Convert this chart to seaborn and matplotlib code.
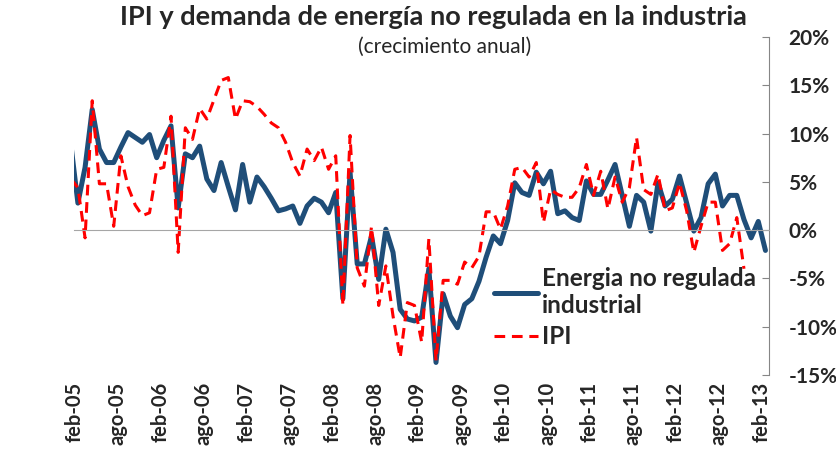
import numpy as np
import pandas as pd
import matplotlib
matplotlib.use("Agg")
import matplotlib.pyplot as plt
import seaborn as sns

# monthly annual growth (%), jan-05 .. feb-13 (jan-05 falls just outside the axis)
energia = [
    9.0,
    2.8, 6.5, 12.5, 8.4, 7.0, 7.0, 8.6, 10.1, 9.6, 9.1,
    9.9, 7.5, 9.3, 10.8, 2.3, 7.9, 7.5, 8.7, 5.3, 4.1,
    7.0, 4.5, 2.1, 6.8, 2.9, 5.5, 4.5, 3.3, 2.0, 2.2,
    2.5, 0.7, 2.5, 3.3, 2.9, 1.8, 3.9, -7.1, 6.0, -3.5,
    -3.5, -0.6, -5.1, 0.1, -2.3, -8.2, -9.2, -9.4, -9.0, -4.0,
    -13.7, -6.6, -8.9, -10.1, -7.7, -7.1, -5.3, -2.8, -0.6, -1.4,
    1.0, 4.9, 3.9, 3.6, 6.0, 4.8, 6.1, 1.7, 2.0, 1.3,
    1.0, 5.1, 3.7, 3.7, 5.2, 6.8, 3.6, 0.4, 3.6, 2.9,
    -0.1, 4.9, 2.5, 3.2, 5.6, 2.8, -0.1, 1.3, 4.8, 5.8,
    2.5, 3.6, 3.6, 1.1, -0.8, 0.9, -2.1,
]
ipi = [
    5.3,
    4.4, -0.8, 13.4, 4.8, 4.8, 0.4, 7.7, 4.5, 2.6, 1.5,
    1.8, 6.3, 6.5, 11.8, -2.3, 10.6, 9.4, 12.6, 11.5, 13.5,
    15.5, 15.8, 11.5, 13.4, 13.3, 12.8, 12.0, 11.1, 10.6, 9.1,
    7.0, 5.6, 8.4, 7.2, 8.6, 6.3, 7.7, -7.8, 9.8, -3.9,
    -5.8, 0.4, -7.8, -3.7, -8.9, -13.2, -7.5, -7.8, -11.6, -0.9,
    -13.5, -5.2, -5.2, -5.6, -3.3, -3.9, -2.7, 1.9, 1.9, 0.1,
    2.5, 6.3, 6.5, 5.5, 7.0, 0.8, 4.2, 3.7, 3.4, 3.4,
    4.4, 6.8, 3.6, 6.1, 2.2, 5.5, 2.9, 4.4, 9.6, 4.2,
    3.7, 5.8, 2.0, 2.3, 4.9, 2.0, -2.3, 0.4, 2.9, 2.9,
    -2.1, -1.4, 1.3, -4.0,
]
tick_labels = ["feb-05", "ago-05", "feb-06", "ago-06", "feb-07", "ago-07",
               "feb-08", "ago-08", "feb-09", "ago-09", "feb-10", "ago-10",
               "feb-11", "ago-11", "feb-12", "ago-12", "feb-13"]
y_ticks = [-15, -10, -5, 0, 5, 10, 15, 20]

n = len(energia)
df = pd.DataFrame({
    "pos": np.arange(n) - 0.5,
    "energia": energia,
    "ipi": ipi + [np.nan] * (n - len(ipi)),
})

sns.set_style("white")
plt.rcParams["font.family"] = ["Lato", "DejaVu Sans"]

fig = plt.figure(figsize=(8.36, 4.55), dpi=100)
ax = fig.add_axes([0.0889, 0.1758, 0.831, 0.7429])

sns.lineplot(data=df, x="pos", y="energia", ax=ax, color="#1F4E79", lw=3.6,
             label="Energia no regulada\nindustrial")
sns.lineplot(data=df, x="pos", y="ipi", ax=ax, color="#FF0000", lw=2.2,
             label="IPI")
ax.lines[1].set_dashes([3.5, 2.2])

ax.set_xlim(0, 97)
ax.set_ylim(-15, 20)
ax.set_xlabel("")
ax.set_ylabel("")

# y axis on the right
ax.yaxis.tick_right()
ax.set_yticks(y_ticks)
ax.set_yticklabels([f"{v}%" for v in y_ticks], fontweight="bold")
ax.tick_params(axis="y", direction="in", length=5, color="#868686",
               labelsize=15, pad=14)

for s in ["left", "top"]:
    ax.spines[s].set_visible(False)
ax.spines["right"].set_color("#868686")
ax.spines["bottom"].set_position(("data", 0))
ax.spines["bottom"].set_color("#A6A6A6")

ticks = list(range(0, 97, 6))
ax.set_xticks(ticks)
ax.tick_params(axis="x", direction="out", length=5, color="#A6A6A6",
               labelbottom=False)

sec = ax.secondary_xaxis("bottom")
sec.set_xticks(ticks, labels=tick_labels, rotation=90, fontweight="bold")
sec.tick_params(length=0, pad=5, labelsize=14.5)
sec.spines["bottom"].set_visible(False)

ax.legend(loc="upper left", bbox_to_anchor=(0.573, 0.385), frameon=False,
          prop={"weight": "bold", "size": 17.5}, handlelength=1.8,
          handletextpad=0.15, labelspacing=0.35, borderpad=0.4)

fig.text(0.519, 0.99, "IPI y demanda de energía no regulada en la industria",
         ha="center", va="top", fontsize=19.5, fontweight="bold")
fig.text(0.532, 0.897, "(crecimiento anual)", ha="center", va="center",
         fontsize=15)

fig.savefig("out.png", dpi=100)
